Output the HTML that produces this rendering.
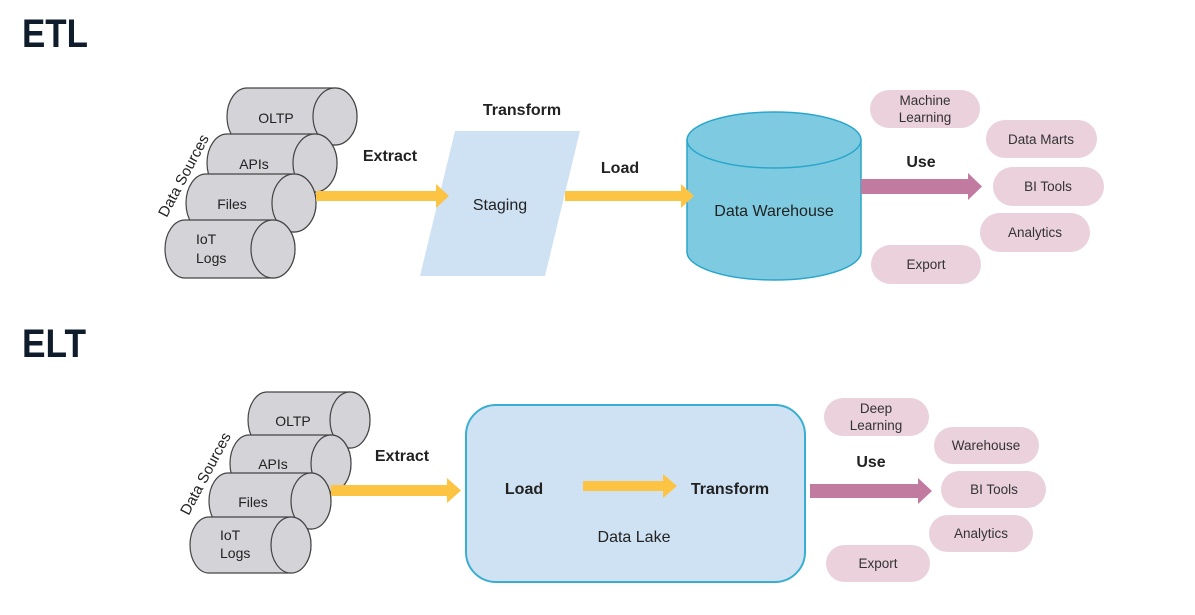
<!DOCTYPE html>
<html><head><meta charset="utf-8"><style>
html,body{margin:0;padding:0;background:#fff;width:1195px;height:615px;overflow:hidden}
svg{display:block}
text{font-family:"Liberation Sans",sans-serif;fill:#222}
.h{font-size:40px;font-weight:bold;fill:#0f1c2b}
.b{font-size:16px;font-weight:bold}
.n{font-size:14px}
.p{font-size:13.5px;fill:#333}
</style></head><body>
<svg width="1195" height="615" viewBox="0 0 1195 615">
<text class="h" x="22" y="47" textLength="66" lengthAdjust="spacingAndGlyphs">ETL</text>
<text class="h" x="22" y="357" textLength="64" lengthAdjust="spacingAndGlyphs">ELT</text>
<!-- top cylinders -->
<g stroke="#444" stroke-width="1.2" fill="#d3d3d8">
<path d="M247,88 L335,88 A22,28.5 0 0 1 335,145 L247,145 A20,28.5 0 0 1 247,88 Z"/><ellipse cx="335" cy="116.5" rx="22" ry="28.5"/>
<path d="M227,134 L315,134 A22,29 0 0 1 315,192 L227,192 A20,29 0 0 1 227,134 Z"/><ellipse cx="315" cy="163" rx="22" ry="29"/>
<path d="M206,174 L294,174 A22,29 0 0 1 294,232 L206,232 A20,29 0 0 1 206,174 Z"/><ellipse cx="294" cy="203" rx="22" ry="29"/>
<path d="M185,220 L273,220 A22,29 0 0 1 273,278 L185,278 A20,29 0 0 1 185,220 Z"/><ellipse cx="273" cy="249" rx="22" ry="29"/>
</g>
<text class="n" x="276" y="123" text-anchor="middle">OLTP</text>
<text class="n" x="254" y="169" text-anchor="middle">APIs</text>
<text class="n" x="232" y="209" text-anchor="middle">Files</text>
<text class="n" x="196" y="244">IoT</text>
<text class="n" x="196" y="263">Logs</text>
<text class="n" x="0" y="0" transform="translate(188,178) rotate(-62)" text-anchor="middle" style="font-size:15px">Data Sources</text>
<text class="b" x="390" y="161" text-anchor="middle">Extract</text>
<polygon points="455,131 580,131 545,276 420,276" fill="#cfe2f3"/>
<text class="b" x="522" y="115" text-anchor="middle">Transform</text>
<text x="500" y="210" text-anchor="middle" style="font-size:16px">Staging</text>
<text class="b" x="620" y="173" text-anchor="middle">Load</text>
<!-- warehouse -->
<path d="M687,140 L687,252 A87,28 0 0 0 861,252 L861,140 Z" fill="#7ecbe1" stroke="#2aa6cc" stroke-width="1.5"/>
<ellipse cx="774" cy="140" rx="87" ry="28" fill="#7ecbe1" stroke="#2aa6cc" stroke-width="1.5"/>
<text x="774" y="216" text-anchor="middle" style="font-size:16px">Data Warehouse</text>
<polygon points="316,191 436,191 436,184 449,196 436,208 436,201 316,201" fill="#fdc443"/>
<polygon points="565,191 681,191 681,184 694,196 681,208 681,201 565,201" fill="#fdc443"/>
<polygon points="861,179 968,179 968,173 982,186.5 968,200 968,194 861,194" fill="#c27ba0"/>
<text class="b" x="921" y="167" text-anchor="middle">Use</text>
<g fill="#ead1dc">
<rect x="870" y="90" width="110" height="38" rx="19"/>
<rect x="986" y="120" width="111" height="38" rx="19"/>
<rect x="993" y="167" width="111" height="39" rx="19.5"/>
<rect x="980" y="213" width="110" height="39" rx="19.5"/>
<rect x="871" y="245" width="110" height="39" rx="19.5"/>
</g>
<text class="p" x="925" y="105" text-anchor="middle">Machine</text>
<text class="p" x="925" y="122" text-anchor="middle">Learning</text>
<text class="p" x="1041" y="144" text-anchor="middle">Data Marts</text>
<text class="p" x="1048" y="191" text-anchor="middle">BI Tools</text>
<text class="p" x="1035" y="237" text-anchor="middle">Analytics</text>
<text class="p" x="926" y="269" text-anchor="middle">Export</text>

<!-- bottom cylinders -->
<g stroke="#444" stroke-width="1.2" fill="#d3d3d8">
<path d="M267,392 L350,392 A20,28 0 0 1 350,448 L267,448 A19,28 0 0 1 267,392 Z"/><ellipse cx="350" cy="420" rx="20" ry="28"/>
<path d="M249,435 L331,435 A20,28.5 0 0 1 331,492 L249,492 A19,28.5 0 0 1 249,435 Z"/><ellipse cx="331" cy="463.5" rx="20" ry="28.5"/>
<path d="M228,473 L311,473 A20,28 0 0 1 311,529 L228,529 A19,28 0 0 1 228,473 Z"/><ellipse cx="311" cy="501" rx="20" ry="28"/>
<path d="M209,517 L291,517 A20,28 0 0 1 291,573 L209,573 A19,28 0 0 1 209,517 Z"/><ellipse cx="291" cy="545" rx="20" ry="28"/>
</g>
<text class="n" x="293" y="426" text-anchor="middle">OLTP</text>
<text class="n" x="273" y="469" text-anchor="middle">APIs</text>
<text class="n" x="253" y="507" text-anchor="middle">Files</text>
<text class="n" x="220" y="540">IoT</text>
<text class="n" x="220" y="558">Logs</text>
<text class="n" x="0" y="0" transform="translate(210,476) rotate(-62)" text-anchor="middle" style="font-size:15px">Data Sources</text>
<polygon points="331,485 447,485 447,478 461,490.5 447,503 447,496 331,496" fill="#fdc443"/>
<text class="b" x="402" y="461" text-anchor="middle">Extract</text>
<rect x="466" y="405" width="339" height="177" rx="30" fill="#cfe2f3" stroke="#3aaed0" stroke-width="2"/>
<text class="b" x="524" y="494" text-anchor="middle">Load</text>
<polygon points="583,481 663,481 663,474 677,486 663,498 663,491 583,491" fill="#fdc443"/>
<text class="b" x="730" y="494" text-anchor="middle">Transform</text>
<text x="634" y="542" text-anchor="middle" style="font-size:16px">Data Lake</text>
<polygon points="810,484 918,484 918,478 932,491 918,504 918,498 810,498" fill="#c27ba0"/>
<text class="b" x="871" y="467" text-anchor="middle">Use</text>
<g fill="#ead1dc">
<rect x="824" y="398" width="105" height="38" rx="19"/>
<rect x="934" y="427" width="105" height="37" rx="18.5"/>
<rect x="941" y="471" width="105" height="37" rx="18.5"/>
<rect x="929" y="515" width="104" height="37" rx="18.5"/>
<rect x="826" y="545" width="104" height="37" rx="18.5"/>
</g>
<text class="p" x="876" y="413" text-anchor="middle">Deep</text>
<text class="p" x="876" y="430" text-anchor="middle">Learning</text>
<text class="p" x="986" y="450" text-anchor="middle">Warehouse</text>
<text class="p" x="994" y="494" text-anchor="middle">BI Tools</text>
<text class="p" x="981" y="538" text-anchor="middle">Analytics</text>
<text class="p" x="878" y="568" text-anchor="middle">Export</text>
</svg>
</body></html>
